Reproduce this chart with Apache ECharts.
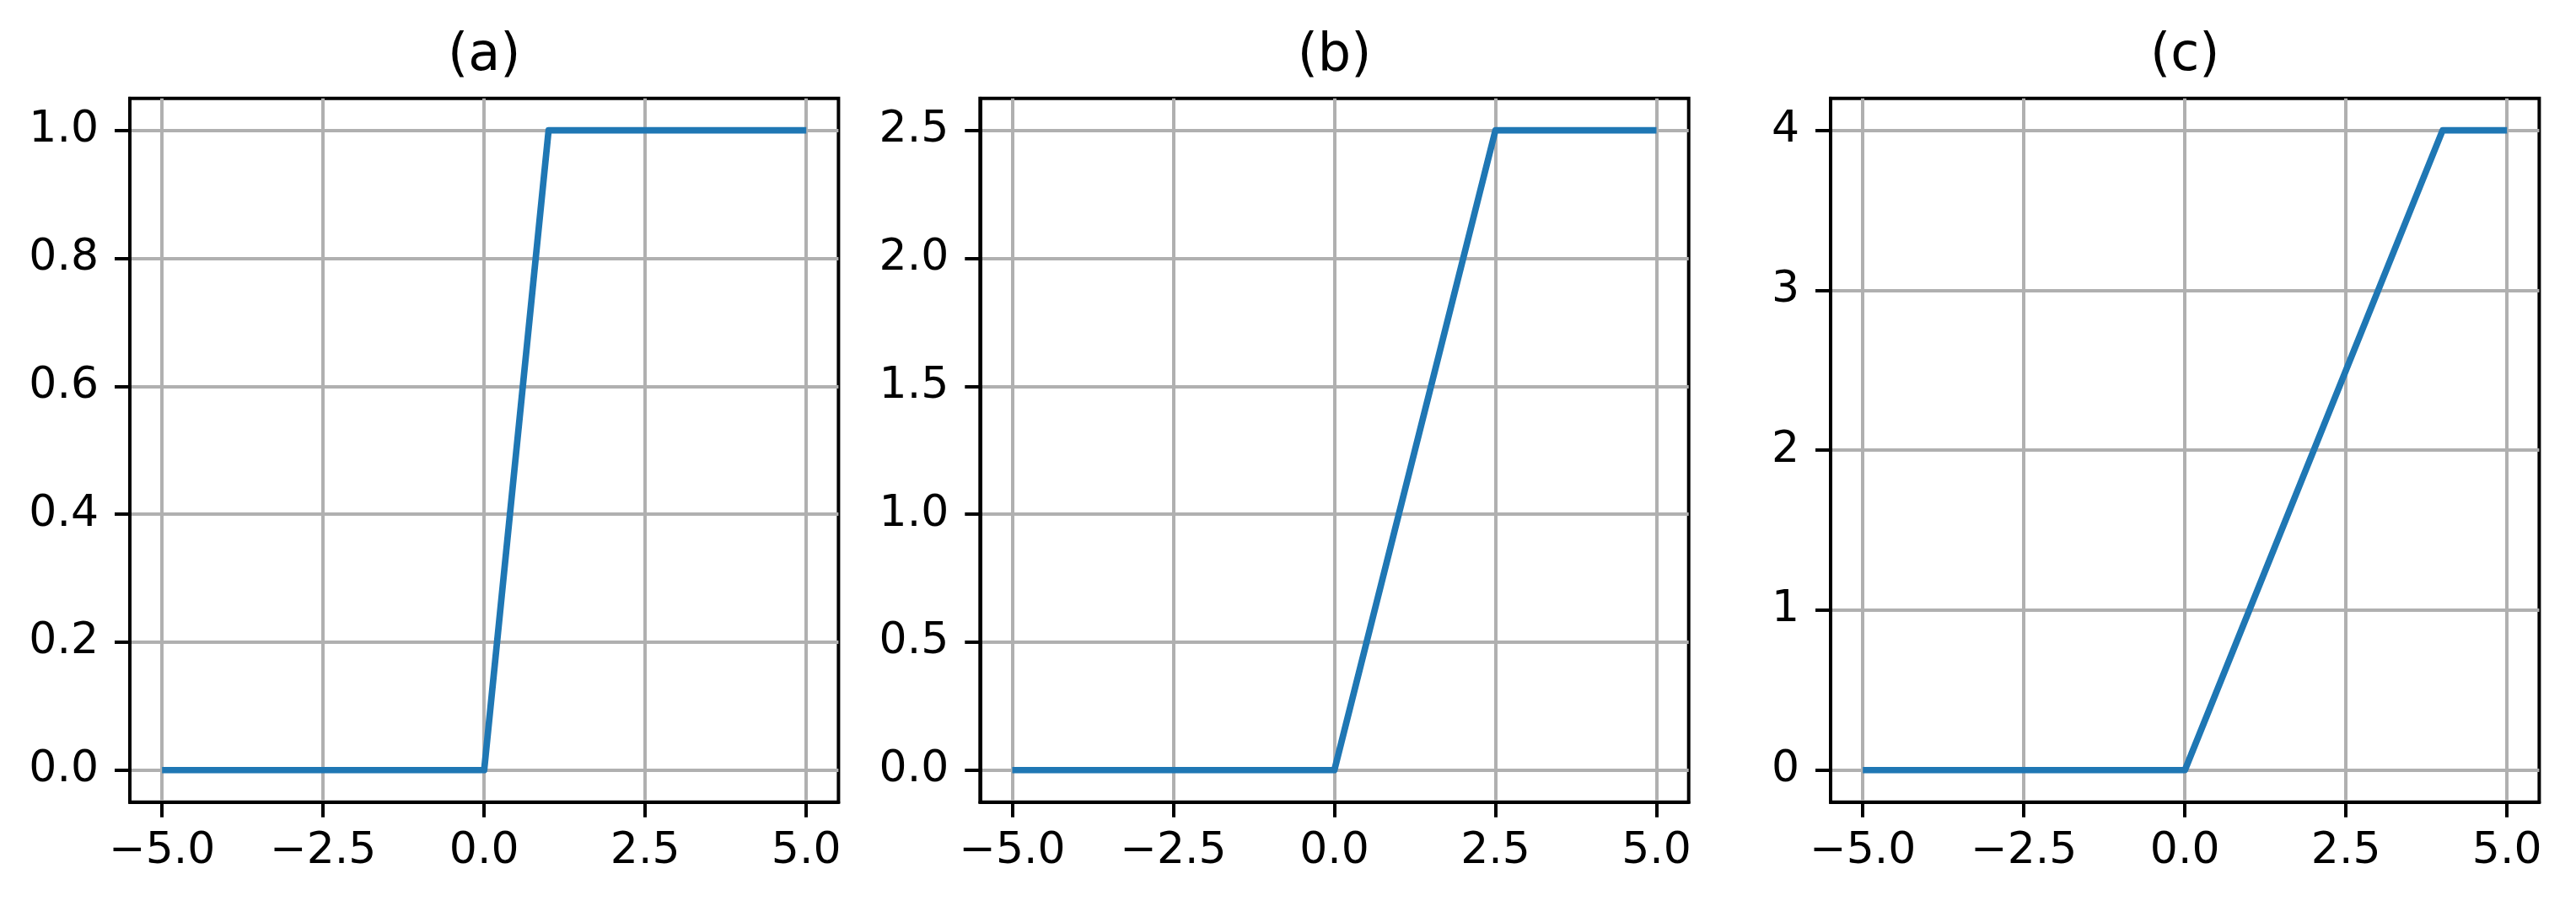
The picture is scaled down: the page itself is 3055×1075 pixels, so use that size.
<!DOCTYPE html>
<html>
<head>
<meta charset="utf-8">
<script src="https://cdn.jsdelivr.net/npm/echarts@6/dist/echarts.min.js"></script>
<style>
  html, body { margin: 0; padding: 0; background: #fff; }
  #chart { width: 3055px; height: 1075px; }
</style>
</head>
<body>
<div id="chart"></div>
<script>
// panel titles
const titles = ['(a)', '(b)', '(c)']

// x ticks shared by all three panels
const xTicks = [-5, -2.5, 0, 2.5, 5]

// y ticks per panel
const yTicksA = [0, 0.2, 0.4, 0.6, 0.8, 1.0]
const yTicksB = [0, 0.5, 1.0, 1.5, 2.0, 2.5]
const yTicksC = [0, 1, 2, 3, 4]

// clipped ramp, breakpoints
const lineA = [[-5, 0], [0, 0], [1, 1], [5, 1]]
const lineB = [[-5, 0], [0, 0], [2.5, 2.5], [5, 2.5]]
const lineC = [[-5, 0], [0, 0], [4, 4], [5, 4]]

const panels = [
  { data: lineA, yTicks: yTicksA, yMin: -0.05, yMax: 1.05, digits: 1 },
  { data: lineB, yTicks: yTicksB, yMin: -0.125, yMax: 2.625, digits: 1 },
  { data: lineC, yTicks: yTicksC, yMin: -0.2, yMax: 4.2, digits: 0 }
]

const FONT = 'DejaVu Sans'
const tickFont = 52
const titleFont = 62
const gridLefts = [154, 1162.3, 2171]
const gridTop = 116.7
const gridW = 840.4
const gridH = 835

function fmt(v, digits) {
  const s = Math.abs(v).toFixed(digits)
  return v < 0 ? '\u2212' + s : s
}

const grid = []
const xAxis = []
const yAxis = []
const series = []
const title = []

panels.forEach((p, i) => {
  grid.push({
    left: gridLefts[i],
    top: gridTop,
    width: gridW,
    height: gridH,
    show: true,
    borderColor: '#000',
    borderWidth: 4,
    backgroundColor: 'transparent',
    containLabel: false
  })
  title.push({
    text: titles[i],
    left: gridLefts[i] + gridW / 2,
    top: 35.7,
    padding: 0,
    textAlign: 'center',
    textStyle: {
      fontFamily: FONT,
      fontSize: titleFont,
      fontWeight: 'normal',
      color: '#000',
      lineHeight: titleFont
    }
  })
  xAxis.push({
    type: 'value',
    gridIndex: i,
    min: -5.5,
    max: 5.5,
    axisLine: { show: true, onZero: false, lineStyle: { color: '#000', width: 4 } },
    axisTick: { show: true, length: 18, customValues: xTicks, lineStyle: { color: '#000', width: 4 } },
    axisLabel: {
      show: true,
      customValues: xTicks,
      margin: 33,
      fontFamily: FONT,
      fontSize: tickFont,
      color: '#000',
      formatter: v => fmt(v, 1)
    },
    splitLine: { show: true, lineStyle: { color: '#b0b0b0', width: 4 } }
  })
  yAxis.push({
    type: 'value',
    gridIndex: i,
    min: p.yMin,
    max: p.yMax,
    axisLine: { show: true, onZero: false, lineStyle: { color: '#000', width: 4 } },
    axisTick: { show: true, length: 18, customValues: p.yTicks, lineStyle: { color: '#000', width: 4 } },
    axisLabel: {
      show: true,
      customValues: p.yTicks,
      margin: 37,
      fontFamily: FONT,
      fontSize: tickFont,
      color: '#000',
      formatter: v => fmt(v, p.digits)
    },
    splitLine: { show: true, lineStyle: { color: '#b0b0b0', width: 4 } }
  })
  series.push({
    type: 'line',
    xAxisIndex: i,
    yAxisIndex: i,
    data: p.data,
    showSymbol: false,
    symbol: 'none',
    z: 3,
    lineStyle: { color: '#1f77b4', width: 7.7, join: 'round', cap: 'butt' }
  })
})

const chart = echarts.init(document.getElementById('chart'), null, { renderer: 'canvas' })
chart.setOption({
  animation: false,
  backgroundColor: '#fff',
  title: title,
  grid: grid,
  xAxis: xAxis,
  yAxis: yAxis,
  series: series
})
</script>
</body>
</html>
